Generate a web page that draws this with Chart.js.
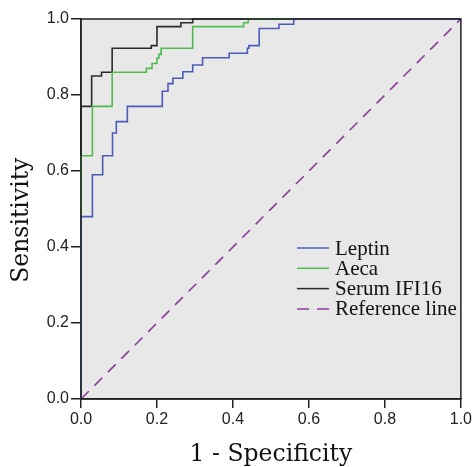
<!DOCTYPE html>
<html>
<head>
<meta charset="utf-8">
<script src="https://cdn.jsdelivr.net/npm/chart.js@4.4.0/dist/chart.umd.min.js"></script>
<style>
  html, body { margin: 0; padding: 0; background: #fff; }
  .canvas-container { width: 474px; height: 467px; }
</style>
</head>
<body>
<div class="canvas-container"><canvas id="rocChart" width="474" height="467"></canvas></div>
<script>
// tick labels on both axes
const tickValues = [0, 0.2, 0.4, 0.6, 0.8, 1.0];

// ROC corners: at each x the curve jumps up to y
const leptinX = [0, 0, 0.03, 0.057, 0.083, 0.093, 0.122, 0.214, 0.229, 0.242, 0.268, 0.294, 0.32, 0.39, 0.438, 0.442, 0.469, 0.521, 0.56, 1];
const leptinY = [0, 0.48, 0.59, 0.64, 0.70, 0.73, 0.77, 0.81, 0.83, 0.844, 0.861, 0.879, 0.898, 0.91, 0.923, 0.93, 0.975, 0.986, 1, 1];

const aecaX = [0, 0, 0.03, 0.082, 0.172, 0.187, 0.2, 0.205, 0.211, 0.294, 0.428, 0.44, 1];
const aecaY = [0, 0.64, 0.77, 0.86, 0.87, 0.883, 0.897, 0.907, 0.923, 0.98, 0.99, 1, 1];

const ifi16X = [0, 0, 0.028, 0.054, 0.082, 0.185, 0.2, 0.263, 0.294, 1];
const ifi16Y = [0, 0.77, 0.85, 0.86, 0.923, 0.93, 0.98, 0.99, 1, 1];

const refX = [0, 1];
const refY = [0, 1];

const seriesLabels = ['Leptin', 'Aeca', 'Serum IFI16', 'Reference line'];

const toPoints = (xs, ys) => xs.map((x, i) => ({ x: x, y: ys[i] }));

// grey plot area, and the black frame put back on top of the curves
const plotFrame = {
    id: 'plotFrame',
    beforeDraw(chart) {
        const { ctx, chartArea: a } = chart;
        ctx.save();
        ctx.fillStyle = '#e8e8e8';
        ctx.fillRect(a.left, a.top, a.right - a.left, a.bottom - a.top);
        ctx.restore();
    },
    afterDatasetsDraw(chart) {
        const { ctx, chartArea: a } = chart;
        ctx.save();
        ctx.strokeStyle = '#222';
        ctx.lineWidth = 1.5;
        ctx.strokeRect(a.left, a.top, a.right - a.left, a.bottom - a.top);
        ctx.restore();
    }
};

// legend drawn inside the plot, lower right
const insideLegend = {
    id: 'insideLegend',
    afterDatasetsDraw(chart) {
        const { ctx } = chart;
        const x0 = 297, y0 = 248, rowH = 20.3;
        ctx.save();
        chart.data.datasets.forEach((ds, i) => {
            const y = y0 + i * rowH;
            ctx.strokeStyle = ds.borderColor;
            ctx.lineWidth = 1.5;
            ctx.setLineDash(ds.borderDash ? [12, 8] : []);
            ctx.beginPath();
            ctx.moveTo(x0, y);
            ctx.lineTo(x0 + 32, y);
            ctx.stroke();
            ctx.setLineDash([]);
            ctx.fillStyle = '#111';
            ctx.font = '21px "Liberation Serif"';
            ctx.textBaseline = 'middle';
            ctx.fillText(ds.label, x0 + 38, y + 1);
        });
        ctx.restore();
    }
};

const tickFont = { family: 'Liberation Sans', size: 16 };
const titleFont = { family: 'DejaVu Serif', size: 23.5, lineHeight: 1 };

const ctx = document.querySelector('#rocChart');

const myChart = new Chart(ctx, {
    type: 'line',
    data: {
        datasets: [{
            label: seriesLabels[0],
            data: toPoints(leptinX, leptinY),
            borderColor: '#4a5cb8',
            borderWidth: 1.6,
            stepped: 'before'
        },
        {
            label: seriesLabels[1],
            data: toPoints(aecaX, aecaY),
            borderColor: '#4fbb4f',
            borderWidth: 1.6,
            stepped: 'before'
        },
        {
            label: seriesLabels[2],
            data: toPoints(ifi16X, ifi16Y),
            borderColor: '#2b2b2b',
            borderWidth: 1.6,
            stepped: 'before'
        },
        {
            label: seriesLabels[3],
            data: toPoints(refX, refY),
            borderColor: '#8c3c9c',
            borderWidth: 1.6,
            borderDash: [11, 8]
        }]
    },
    options: {
        responsive: false,
        animation: false,
        devicePixelRatio: 1,
        clip: false,
        elements: {
            point: { radius: 0 },
            line: { fill: false, tension: 0 }
        },
        layout: { padding: { top: 19, right: 11, left: 0, bottom: 0 } },
        plugins: {
            legend: { display: false },
            tooltip: { enabled: false }
        },
        scales: {
            x: {
                type: 'linear',
                min: 0,
                max: 1,
                afterBuildTicks: s => { s.ticks = tickValues.map(v => ({ value: v })); },
                afterFit: s => { s.height = 68; },
                border: { display: true, color: '#222', width: 1.5 },
                grid: { drawOnChartArea: false, drawTicks: true, tickLength: 9, color: '#222', lineWidth: 1.5 },
                ticks: {
                    font: tickFont,
                    color: '#222',
                    padding: 2,
                    maxRotation: 0,
                    autoSkip: false,
                    callback: v => v.toFixed(1)
                },
                title: {
                    display: true,
                    text: '1 - Specificity',
                    font: titleFont,
                    color: '#111',
                    padding: { top: 0, bottom: 0 }
                }
            },
            y: {
                type: 'linear',
                min: 0,
                max: 1,
                afterBuildTicks: s => { s.ticks = tickValues.map(v => ({ value: v })); },
                afterFit: s => { s.width = 81; },
                border: { display: true, color: '#222', width: 1.5 },
                grid: { drawOnChartArea: false, drawTicks: true, tickLength: 10, color: '#222', lineWidth: 1.5 },
                ticks: {
                    font: tickFont,
                    color: '#222',
                    padding: 2,
                    autoSkip: false,
                    callback: v => v.toFixed(1)
                },
                title: {
                    display: true,
                    // trailing spaces push the word a little below the axis middle, as in the original
                    text: 'Sensitivity   ',
                    font: titleFont,
                    color: '#111',
                    padding: { top: 10, bottom: 0 }
                }
            }
        }
    },
    plugins: [plotFrame, insideLegend]
});
</script>
</body>
</html>
